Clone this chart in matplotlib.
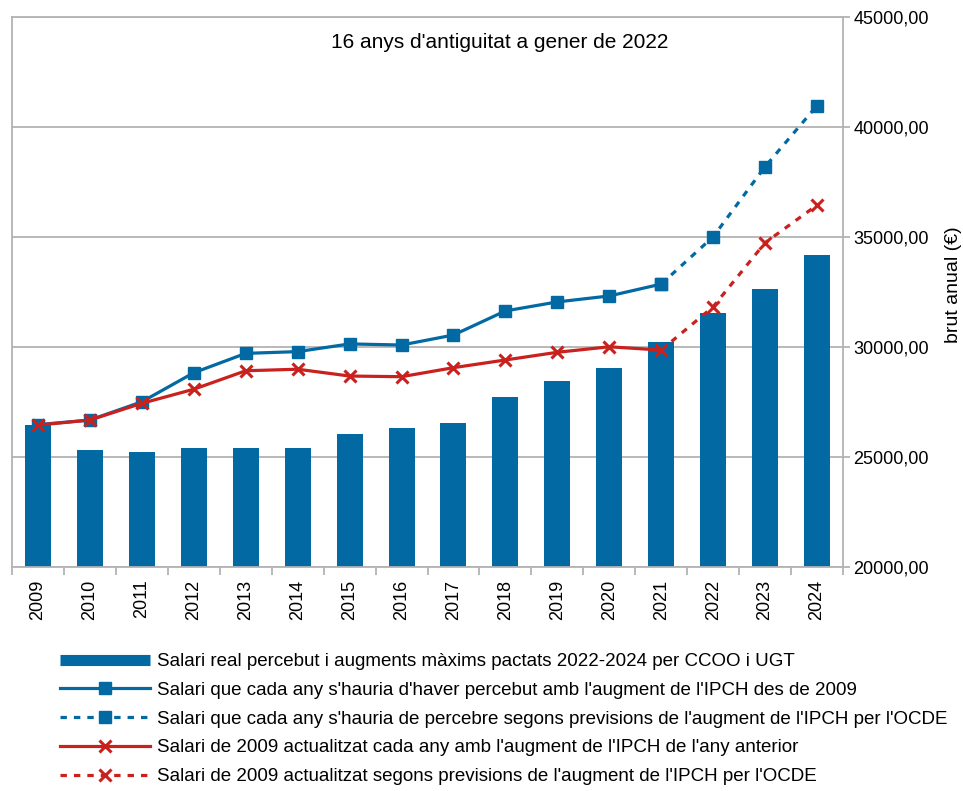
import numpy as np
import matplotlib.pyplot as plt
import matplotlib
from matplotlib.lines import Line2D
from matplotlib.ticker import FuncFormatter

matplotlib.rcParams['font.family'] = ['Liberation Sans', 'DejaVu Sans']

# data
years = ['2009', '2010', '2011', '2012', '2013', '2014', '2015', '2016',
         '2017', '2018', '2019', '2020', '2021', '2022', '2023', '2024']
salari_real = [26450, 25320, 25240, 25420, 25420, 25420, 26030, 26300,
               26560, 27710, 28450, 29030, 30240, 31530, 32620, 34180]
ipch_2009 = [26470, 26680, 27510, 28830, 29710, 29790, 30140, 30090,
             30545, 31640, 32050, 32320, 32860]
ipch_2009_ocde = [32860, 35010, 38200, 40970]
ipch_anterior = [26450, 26680, 27440, 28080, 28920, 28990, 28680, 28650,
                 29060, 29410, 29760, 30010, 29860]
ipch_anterior_ocde = [29860, 31830, 34740, 36450]

labels = ["Salari real percebut i augments màxims pactats 2022-2024 per CCOO i UGT",
          "Salari que cada any s'hauria d'haver percebut amb l'augment de l'IPCH des de 2009",
          "Salari que cada any s'hauria de percebre segons previsions de l'augment de l'IPCH per l'OCDE",
          "Salari de 2009 actualitzat cada any amb l'augment de l'IPCH de l'any anterior",
          "Salari de 2009 actualitzat segons previsions de l'augment de l'IPCH per l'OCDE"]

blue = '#0369a3'
red = '#c9211e'
grey = '#b3b3b3'

fig = plt.figure(figsize=(9.63, 7.91), dpi=100)
ax = fig.add_axes([12 / 963, 1 - 567 / 791, 831 / 963, 550 / 791])

x = np.arange(len(years))
ax.bar(x, salari_real, width=0.5, color=blue, zorder=2)

n1 = len(ipch_2009)
x_ocde = np.arange(n1 - 1, n1 - 1 + len(ipch_2009_ocde))
dash = (0, (2, 2.2))
ax.plot(x[:n1], ipch_2009, color=blue, lw=2.3, marker='s', ms=8.5, zorder=3)
ax.plot(x_ocde, ipch_2009_ocde, color=blue, lw=2.3, ls=dash, marker='s', ms=8.5, zorder=3)
ax.plot(x[:len(ipch_anterior)], ipch_anterior, color=red, lw=2.3, marker='x', ms=9, mew=2.2, zorder=4)
ax.plot(x_ocde, ipch_anterior_ocde, color=red, lw=2.3, ls=dash, marker='x', ms=9, mew=2.2, zorder=4)

ax.set_xlim(-0.5, len(years) - 0.5)
ax.set_ylim(20000, 45000)
ax.set_yticks(np.arange(20000, 45001, 5000))
ax.yaxis.tick_right()
ax.yaxis.set_major_formatter(FuncFormatter(lambda v, p: f"{v:.2f}".replace('.', ',')))
ax.grid(axis='y', color=grey, lw=1.3, zorder=0)

ax.set_xticks(np.arange(-0.5, len(years)), [''] * (len(years) + 1))
ax.set_xticks(x, years, minor=True, rotation=90)
ax.tick_params(axis='x', which='major', length=6, color=grey, width=1.3)
ax.tick_params(axis='x', which='minor', length=0, labelsize=13, pad=9)
ax.tick_params(axis='y', length=5, color=grey, width=1.3, labelsize=13, pad=2.5)

for s in ax.spines.values():
    s.set_color(grey)
    s.set_linewidth(1.3)

fig.text(500 / 963, 1 - 43 / 791, "16 anys d'antiguitat a gener de 2022",
         ha='center', va='center', fontsize=15)
fig.text(945 / 963, 1 - 285 / 791, "brut anual (€)", rotation=90,
         ha='left', va='center', fontsize=14)

handles = [Line2D([], [], color=blue, lw=8, solid_capstyle='butt'),
           Line2D([], [], color=blue, lw=2.3, marker='s', ms=8.5),
           Line2D([], [], color=blue, lw=2.3, ls=dash, marker='s', ms=8.5),
           Line2D([], [], color=red, lw=2.3, marker='x', ms=9, mew=2.2),
           Line2D([], [], color=red, lw=2.3, ls=dash, marker='x', ms=9, mew=2.2)]
fig.legend(handles, labels, loc='upper left', bbox_to_anchor=(60 / 963, 1 - 653 / 791),
           frameon=False, fontsize=13.5, handlelength=4.8, handletextpad=0.37,
           labelspacing=0.62, borderaxespad=0, borderpad=0)

fig.savefig('out.png', dpi=100)
